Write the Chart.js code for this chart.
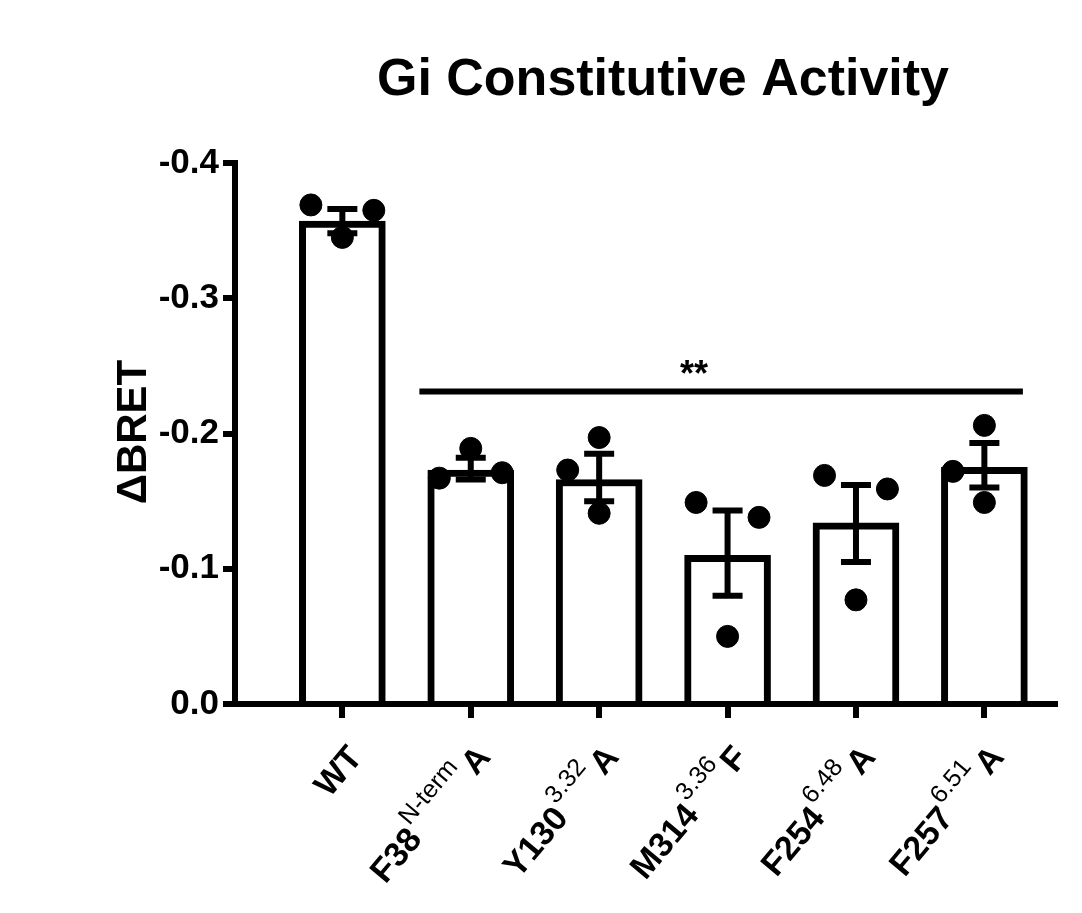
<!DOCTYPE html>
<html>
<head>
<meta charset="utf-8">
<script src="https://cdn.jsdelivr.net/npm/chart.js@4"></script>
<style>
  html, body { margin: 0; padding: 0; background: #fff; }
  #wrap { width: 1082px; height: 913px; }
</style>
</head>
<body>
<div id="wrap"><canvas id="c" width="1082" height="913"></canvas></div>
<script>
'use strict';

/* ---- data ---- */
const mainLabels = ['WT', 'F38', 'Y130', 'M314', 'F254', 'F257'];
const supLabels  = ['', 'N-term', '3.32', '3.36', '6.48', '6.51'];
const endLabels  = ['', 'A', 'A', 'F', 'A', 'A'];
const means   = [-0.357, -0.173, -0.166, -0.110, -0.134, -0.175];
const errHigh = [-0.366, -0.182, -0.185, -0.143, -0.162, -0.193];
const errLow  = [-0.348, -0.166, -0.150, -0.080, -0.105, -0.160];
const pointsA = [-0.369, -0.167, -0.173, -0.149, -0.169, -0.206];
const pointsB = [-0.345, -0.189, -0.197, -0.050, -0.077, -0.172];
const pointsC = [-0.365, -0.171, -0.141, -0.138, -0.159, -0.149];
// horizontal spread of each replicate within its bar (-1 left, 0 centre, 1 right)
const spreadA = [-1, -1, -1, -1, -1, 0];
const spreadB = [0, 0, 0, 0, 0, -1];
const spreadC = [1, 1, 0, 1, 1, 0];
const yTicks  = [-0.4, -0.3, -0.2, -0.1, 0.0];
const sigLine = { from: 0.6, to: 5.3, y: -0.231, text: '**' };

const FONT = '"Liberation Sans", Arial, sans-serif';

const pts = [];
[[pointsA, spreadA], [pointsB, spreadB], [pointsC, spreadC]].forEach(([vals, sp]) => {
    vals.forEach((v, i) => pts.push({ x: i + sp[i] * 0.245, y: v }));
});

/* ---- plugins ---- */
const decorPlugin = {
    id: 'decor',
    afterDatasetsDraw(chart) {
        const { ctx, scales: { x, y } } = chart;
        ctx.save();
        ctx.strokeStyle = '#000';
        ctx.lineWidth = 6;
        // error bars
        means.forEach((m, i) => {
            const cx = x.getPixelForValue(i);
            const yt = y.getPixelForValue(errHigh[i]);
            const yb = y.getPixelForValue(errLow[i]);
            ctx.beginPath();
            ctx.moveTo(cx, yt); ctx.lineTo(cx, yb);
            ctx.moveTo(cx - 15, yt); ctx.lineTo(cx + 15, yt);
            ctx.moveTo(cx - 15, yb); ctx.lineTo(cx + 15, yb);
            ctx.stroke();
        });
        // significance line
        const sy = y.getPixelForValue(sigLine.y);
        ctx.beginPath();
        ctx.moveTo(x.getPixelForValue(sigLine.from), sy);
        ctx.lineTo(x.getPixelForValue(sigLine.to), sy);
        ctx.stroke();
        ctx.fillStyle = '#000';
        ctx.font = 'bold 36px ' + FONT;
        ctx.textAlign = 'center';
        ctx.textBaseline = 'alphabetic';
        ctx.fillText(sigLine.text, 694, sy - 6);

        // title
        ctx.font = 'bold 52px ' + FONT;
        ctx.fillText('Gi Constitutive Activity', 663, 95);

        // y title
        ctx.save();
        ctx.translate(134, 432);
        ctx.rotate(-Math.PI / 2);
        ctx.font = 'bold 42px ' + FONT;
        ctx.textBaseline = 'middle';
        ctx.fillText('\u0394BRET', 0, 0);
        ctx.restore();

        // rotated category labels with superscripts
        mainLabels.forEach((lab, i) => {
            const cx = x.getPixelForValue(i);
            ctx.save();
            ctx.translate(cx + 14, 752);
            ctx.rotate(-50 * Math.PI / 180);
            ctx.textAlign = 'right';
            ctx.textBaseline = 'middle';
            let pos = 0;
            ctx.font = 'bold 34px ' + FONT;
            if (endLabels[i]) {
                ctx.fillText(endLabels[i], pos, 0);
                pos -= ctx.measureText(endLabels[i]).width + 4;
            }
            if (supLabels[i]) {
                ctx.font = '25px ' + FONT;
                ctx.fillText(supLabels[i], pos, -17);
                pos -= ctx.measureText(supLabels[i]).width + 2;
            }
            ctx.font = 'bold 34px ' + FONT;
            ctx.fillText(lab, pos, 0);
            ctx.restore();
        });
        ctx.restore();
    },
};

/* ---- chart ---- */
new Chart(document.getElementById('c').getContext('2d'), {
    type: 'bar',
    data: {
        datasets: [
            {
                type: 'scatter',
                data: pts,
                pointRadius: 11,
                pointBackgroundColor: '#000',
                pointBorderColor: '#000',
                order: 0,
            },
            {
                type: 'bar',
                data: means.map((v, i) => ({ x: i, y: v })),
                backgroundColor: '#fff',
                borderColor: '#000',
                borderWidth: 7,
                borderSkipped: 'start',
                barThickness: 86,
                order: 1,
            },
        ],
    },
    options: {
        responsive: false,
        animation: false,
        layout: { padding: { top: 163, right: 27, left: 0, bottom: 0 } },
        plugins: { legend: { display: false }, tooltip: { enabled: false } },
        scales: {
            x: {
                type: 'linear',
                min: -0.836,
                max: 5.55,
                offset: false,
                afterBuildTicks: s => { s.ticks = mainLabels.map((_, i) => ({ value: i })); },
                afterFit: s => { s.height = 913 - 704; },
                ticks: { display: false },
                grid: { offset: false, drawOnChartArea: false, tickLength: 14, lineWidth: 6, color: '#000' },
                border: { width: 6, color: '#000' },
            },
            y: {
                min: -0.4,
                max: 0,
                reverse: true,
                afterBuildTicks: s => { s.ticks = yTicks.map(v => ({ value: v })); },
                afterFit: s => { s.width = 235; },
                ticks: {
                    color: '#000',
                    font: { family: FONT, size: 35, weight: 'bold' },
                    padding: 4,
                    callback: v => v.toFixed(1),
                },
                grid: { drawOnChartArea: false, tickLength: 12, lineWidth: 6, color: '#000' },
                border: { width: 6, color: '#000' },
            },
        },
    },
    plugins: [decorPlugin],
});
</script>
</body>
</html>
